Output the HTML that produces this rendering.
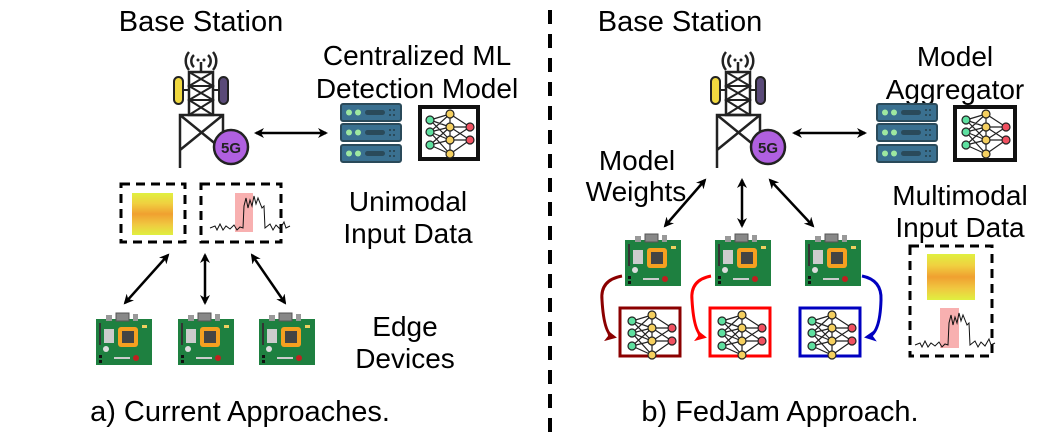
<!DOCTYPE html>
<html><head><meta charset="utf-8"><style>
html,body{margin:0;padding:0;background:#fff;}
svg{display:block;}
text{font-family:"Liberation Sans",Arial,sans-serif;fill:#000;}
</style></head><body>
<svg width="1045" height="434" viewBox="0 0 1045 434" xmlns="http://www.w3.org/2000/svg">
<defs>
<marker id="ah" markerWidth="10" markerHeight="10" refX="8" refY="5" orient="auto-start-reverse" markerUnits="userSpaceOnUse">
<path d="M0,0 L10,5 L0,10 L3,5 Z" fill="#000"/></marker>
<marker id="ahdr" markerWidth="12" markerHeight="12" refX="9" refY="6" orient="auto" markerUnits="userSpaceOnUse"><path d="M0,0 L12,6 L0,12 L3,6 Z" fill="#8b0000"/></marker>
<marker id="ahr" markerWidth="12" markerHeight="12" refX="9" refY="6" orient="auto" markerUnits="userSpaceOnUse"><path d="M0,0 L12,6 L0,12 L3,6 Z" fill="#f00"/></marker>
<marker id="ahb" markerWidth="12" markerHeight="12" refX="9" refY="6" orient="auto" markerUnits="userSpaceOnUse"><path d="M0,0 L12,6 L0,12 L3,6 Z" fill="#0000c0"/></marker>
<linearGradient id="spec" x1="0" y1="0" x2="0" y2="1">
<stop offset="0" stop-color="#e0f040"/><stop offset="0.25" stop-color="#f0d040"/><stop offset="0.5" stop-color="#f0a030"/><stop offset="0.75" stop-color="#f0c840"/><stop offset="1" stop-color="#e0f040"/></linearGradient>
<g id="tower">
<path d="M-12,-78 a14,14 0 0 0 0,18 M12,-78 a14,14 0 0 1 0,18 M-7,-75 a8,8 0 0 0 0,12 M7,-75 a8,8 0 0 1 0,12" fill="none" stroke="#222" stroke-width="2.5"/>
<circle cx="-3" cy="-70" r="1.5" fill="#222"/><circle cx="3" cy="-70" r="1.5" fill="#222"/>
<line x1="0" y1="-68" x2="0" y2="-58" stroke="#222" stroke-width="2.5"/>
<rect x="-12" y="-58" width="24" height="43" fill="none" stroke="#222" stroke-width="2.5"/>
<path d="M-12,-58 L12,-44 L-12,-30 L12,-15 M12,-58 L-12,-44 L12,-30 L-12,-15 M-12,-44 H12 M-12,-30 H12" stroke="#222" stroke-width="2" fill="none"/>
<rect x="-27" y="-53" width="9" height="27" rx="4.5" fill="#f0d840" stroke="#222" stroke-width="2"/>
<rect x="18" y="-53" width="9" height="27" rx="4.5" fill="#5a4a78" stroke="#222" stroke-width="2"/>
<line x1="-18" y1="-40" x2="-12" y2="-40" stroke="#222" stroke-width="2"/><line x1="12" y1="-40" x2="18" y2="-40" stroke="#222" stroke-width="2"/>
<path d="M-21,38 V-15 H22 V10 M-21,-15 L22,20 M22,-15 L-21,20" stroke="#222" stroke-width="2.5" fill="none"/>
<circle cx="30" cy="17" r="17" fill="#b060e0" stroke="#222" stroke-width="2.5"/>
<text x="30" y="23" font-size="15" font-weight="bold" text-anchor="middle" style="fill:#222">5G</text>
</g>
<g id="server">
<g id="srow"><rect x="0" y="0" width="60" height="17" rx="2" fill="#3a7090" stroke="#2a4a5a" stroke-width="2"/>
<circle cx="8" cy="8.5" r="3" fill="#9ee8a0"/><circle cx="17" cy="8.5" r="3" fill="#9ee8a0"/>
<rect x="24" y="6" width="20" height="5" rx="2.5" fill="#2a4a5a"/>
<rect x="48" y="5" width="2" height="2" fill="#2a4a5a"/><rect x="52" y="5" width="2" height="2" fill="#2a4a5a"/><rect x="48" y="10" width="2" height="2" fill="#2a4a5a"/><rect x="52" y="10" width="2" height="2" fill="#2a4a5a"/></g>
<use href="#srow" y="20"/><use href="#srow" y="41"/>
</g>
<g id="nn">
<g stroke="#222" stroke-width="1.2">
<path d="M12,13 L32,7 M12,13 L32,20 M12,13 L32,33 M12,25 L32,7 M12,25 L32,20 M12,25 L32,33 M12,25 L32,47 M12,38 L32,20 M12,38 L32,33 M12,38 L32,47 M32,7 L52,20 M32,20 L52,20 M32,20 L52,33 M32,33 L52,20 M32,33 L52,33 M32,47 L52,33 M32,7 L32,47"/>
</g>
<g stroke="#222" stroke-width="1.2">
<circle cx="12" cy="13" r="4" fill="#5ee0a0"/><circle cx="12" cy="25" r="4" fill="#5ee0a0"/><circle cx="12" cy="38" r="4" fill="#5ee0a0"/>
<circle cx="32" cy="7" r="4" fill="#f5d060"/><circle cx="32" cy="20" r="4" fill="#f5d060"/><circle cx="32" cy="33" r="4" fill="#f5d060"/><circle cx="32" cy="47" r="4" fill="#f5d060"/>
<circle cx="52" cy="20" r="4" fill="#f05060"/><circle cx="52" cy="33" r="4" fill="#f05060"/>
</g></g>
<g id="board">
<rect x="0" y="6" width="56" height="46" fill="#1e8040"/>
<rect x="20" y="0" width="13" height="8" fill="#888" stroke="#555"/><rect x="10" y="2" width="6" height="6" fill="#999"/><rect x="37" y="1" width="5" height="7" fill="#999"/>
<rect x="8" y="16" width="10" height="14" fill="#ccc"/>
<rect x="22" y="14" width="20" height="20" rx="3" fill="#f5a020"/><rect x="26" y="18" width="12" height="12" fill="#444"/>
<circle cx="10" cy="36" r="3" fill="#ddd"/><circle cx="40" cy="45" r="3" fill="#c02020"/>
<rect x="46" y="12" width="5" height="3" fill="#f0d060"/>
<rect x="3" y="10" width="2" height="22" fill="#333"/>
<rect x="18" y="44" width="16" height="2" fill="#ccc"/><rect x="3" y="42" width="3" height="3" fill="#111"/><rect x="3" y="47" width="3" height="3" fill="#111"/>
</g>
<g id="ts">
<path d="M0,42 L5,40 L7,44 L10,38 L13,44 L16,40 L20,43 L24,39 L27,44 L30,41 L33,42 L34,20 L36,12 L38,22 L40,14 L42,20 L44,10 L46,18 L48,12 L52,22 L54,20 L55,42 L60,38 L63,44 L66,39 L70,43 L74,36 L76,42 L80,40" fill="none" stroke="#111" stroke-width="1"/>
</g>
</defs>

<line x1="550" y1="10" x2="550" y2="434" stroke="#000" stroke-width="4" stroke-dasharray="14,10"/>

<!-- LEFT -->
<text x="201" y="31" font-size="29" text-anchor="middle">Base Station</text>
<use href="#tower" x="201" y="130"/>
<line x1="256" y1="133" x2="326" y2="133" stroke="#000" stroke-width="2.5" marker-start="url(#ah)" marker-end="url(#ah)"/>
<text x="417" y="65" font-size="28" text-anchor="middle">Centralized ML</text>
<text x="417" y="98" font-size="28" text-anchor="middle">Detection Model</text>
<use href="#server" x="341" y="104"/>
<rect x="420" y="107" width="58" height="52" fill="#fff" stroke="#111" stroke-width="4"/>
<use href="#nn" x="418" y="107"/>
<rect x="121" y="184" width="64" height="58" fill="none" stroke="#000" stroke-width="3" stroke-dasharray="9,6"/>
<rect x="132" y="193" width="41" height="42" fill="url(#spec)"/>
<rect x="201" y="184" width="80" height="58" fill="none" stroke="#000" stroke-width="3" stroke-dasharray="9,6"/>
<rect x="235" y="193" width="18" height="39" fill="#f8b0b0"/>
<use href="#ts" x="210" y="186"/>
<text x="408" y="211" font-size="28" text-anchor="middle">Unimodal</text>
<text x="408" y="243" font-size="28" text-anchor="middle">Input Data</text>
<line x1="168" y1="255" x2="125" y2="303" stroke="#000" stroke-width="2.5" marker-start="url(#ah)" marker-end="url(#ah)"/>
<line x1="205" y1="255" x2="205" y2="303" stroke="#000" stroke-width="2.5" marker-start="url(#ah)" marker-end="url(#ah)"/>
<line x1="252" y1="255" x2="285" y2="303" stroke="#000" stroke-width="2.5" marker-start="url(#ah)" marker-end="url(#ah)"/>
<use href="#board" x="96" y="313"/><use href="#board" x="178" y="313"/><use href="#board" x="259" y="313"/>
<text x="405" y="336" font-size="28" text-anchor="middle">Edge</text>
<text x="405" y="368" font-size="28" text-anchor="middle">Devices</text>
<text x="240" y="421" font-size="29" text-anchor="middle">a) Current Approaches.</text>

<!-- RIGHT -->
<text x="680" y="31" font-size="29" text-anchor="middle">Base Station</text>
<use href="#tower" x="738" y="130"/>
<line x1="794" y1="133" x2="865" y2="133" stroke="#000" stroke-width="2.5" marker-start="url(#ah)" marker-end="url(#ah)"/>
<text x="955" y="66" font-size="28" text-anchor="middle">Model</text>
<text x="955" y="99" font-size="28" text-anchor="middle">Aggregator</text>
<use href="#server" x="877" y="104"/>
<rect x="955" y="107" width="60" height="53" fill="#fff" stroke="#111" stroke-width="4"/>
<use href="#nn" x="954" y="107"/>
<text x="637" y="170" font-size="28" text-anchor="middle">Model</text>
<text x="636" y="201" font-size="28" text-anchor="middle">Weights</text>
<line x1="705" y1="180" x2="665" y2="226" stroke="#000" stroke-width="2.5" marker-start="url(#ah)" marker-end="url(#ah)"/>
<line x1="742" y1="180" x2="742" y2="226" stroke="#000" stroke-width="2.5" marker-start="url(#ah)" marker-end="url(#ah)"/>
<line x1="770" y1="180" x2="813" y2="226" stroke="#000" stroke-width="2.5" marker-start="url(#ah)" marker-end="url(#ah)"/>
<text x="960" y="205" font-size="28" text-anchor="middle">Multimodal</text>
<text x="960" y="237" font-size="28" text-anchor="middle">Input Data</text>
<use href="#board" x="625" y="234"/><use href="#board" x="715" y="234"/><use href="#board" x="805" y="234"/>
<path d="M622,276 Q600,280 602,300 Q604,335 614,337" fill="none" stroke="#8b0000" stroke-width="3" marker-end="url(#ahdr)"/>
<path d="M711,276 Q690,280 692,300 Q694,335 704,337" fill="none" stroke="#f00" stroke-width="3" marker-end="url(#ahr)"/>
<path d="M862,276 Q882,280 881,300 Q880,335 867,337" fill="none" stroke="#0000c0" stroke-width="3" marker-end="url(#ahb)"/>
<rect x="620" y="308" width="60" height="48" fill="#fff" stroke="#8b0000" stroke-width="3"/>
<use href="#nn" x="620" y="308"/>
<rect x="710" y="308" width="60" height="48" fill="#fff" stroke="#f00" stroke-width="3"/>
<use href="#nn" x="710" y="308"/>
<rect x="800" y="308" width="60" height="48" fill="#fff" stroke="#0000c0" stroke-width="3"/>
<use href="#nn" x="800" y="308"/>
<rect x="910" y="246" width="82" height="110" fill="none" stroke="#000" stroke-width="3" stroke-dasharray="9,6"/>
<rect x="927" y="254" width="48" height="46" fill="url(#spec)"/>
<rect x="940" y="308" width="19" height="40" fill="#f8b0b0"/>
<use href="#ts" x="915" y="303"/>
<text x="780" y="421" font-size="29" text-anchor="middle">b) FedJam Approach.</text>
</svg>
</body></html>
